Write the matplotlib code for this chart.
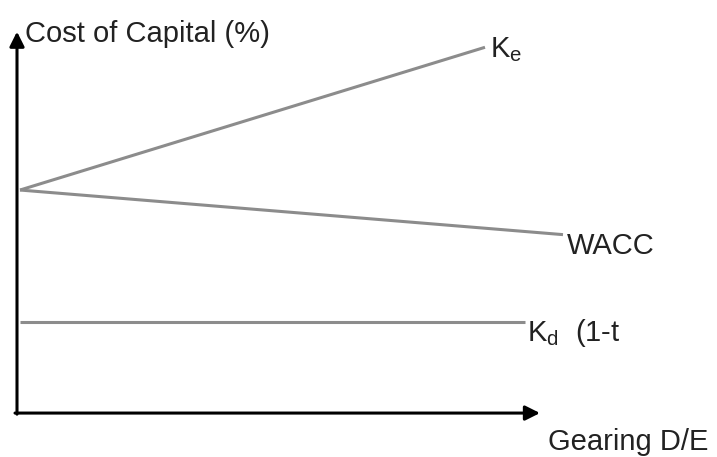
import matplotlib.pyplot as plt

plt.rcParams['font.family'] = ['Liberation Sans', 'DejaVu Sans']
plt.rcParams['mathtext.fontset'] = 'custom'
plt.rcParams['mathtext.rm'] = 'Liberation Sans'
plt.rcParams['mathtext.it'] = 'Liberation Sans'

# --- data (schematic: gearing D/E vs cost of capital %) ---
ke_x = [0, 9.3]
ke_y = [10, 16.4]
wacc_x = [0, 10.86]
wacc_y = [10, 8.0]
kd_x = [0, 10.1]
kd_y = [4.1, 4.1]

LINE_COL = '#8c8c8c'

fig = plt.figure(figsize=(7.17, 4.57), dpi=100, facecolor='white')
ax = fig.add_axes([0, 0, 1, 1])
ax.set_xlim(-0.4, 13.94)
ax.set_ylim(-1.97, 18.52)
ax.axis('off')

# curves
ax.plot(ke_x, ke_y, color=LINE_COL, lw=2.2, solid_capstyle='butt')
ax.plot(wacc_x, wacc_y, color=LINE_COL, lw=2.2, solid_capstyle='butt')
ax.plot(kd_x, kd_y, color=LINE_COL, lw=2.2, solid_capstyle='butt')

# axes with arrows
ax.annotate('', xy=(-0.06, 17.1), xytext=(-0.06, -0.05),
            arrowprops=dict(arrowstyle='-|>', lw=2.2, color='black',
                            mutation_scale=22, shrinkA=0, shrinkB=0))
ax.annotate('', xy=(10.4, 0), xytext=(-0.1, 0),
            arrowprops=dict(arrowstyle='-|>', lw=2.2, color='black',
                            mutation_scale=22, shrinkA=0, shrinkB=0))

# labels
fs = 21
ax.text(0.1, 17.0, 'Cost of Capital (%)', fontsize=fs, va='center', ha='left', color='#222')
ax.text(ke_x[-1] + 0.1, ke_y[-1] - 0.1, r'K$_\mathrm{e}$', fontsize=fs, va='center', ha='left', color='#222')
ax.text(wacc_x[-1] + 0.08, wacc_y[-1] - 0.5, 'WACC', fontsize=fs, va='center', ha='left', color='#222')
ax.text(kd_x[-1] + 0.04, kd_y[-1] - 0.5, r'K$_\mathrm{d}$  (1-t', fontsize=fs, va='center', ha='left', color='#222')
ax.text(10.56, -1.28, 'Gearing D/E', fontsize=fs, va='center', ha='left', color='#222')

plt.savefig('out.png', dpi=100)
